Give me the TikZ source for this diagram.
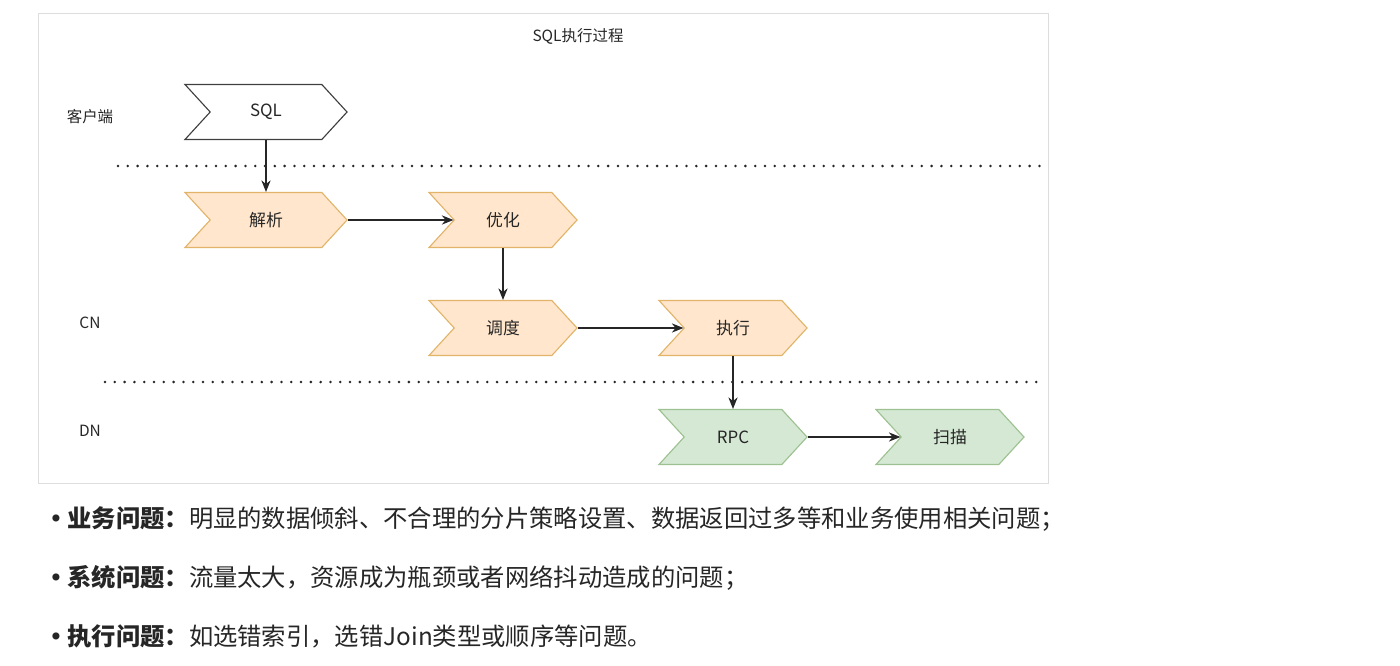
\documentclass[tikz,border=0pt]{standalone}
\usepackage{fontspec}
\setmainfont{Noto Sans CJK SC}
\newfontfamily\bulletfont{DejaVu Sans}
\usetikzlibrary{arrows.meta,shapes.symbols}

\definecolor{orfill}{HTML}{FFE6CC}
\definecolor{ordraw}{HTML}{E2B46A}
\definecolor{grfill}{HTML}{D5E8D4}
\definecolor{grdraw}{HTML}{9DC190}
\definecolor{txtgray}{HTML}{262626}
\definecolor{framegray}{HTML}{DDDDDD}

\begin{document}
\begin{tikzpicture}[
    x=0.025cm, y=-0.025cm,
    >={Stealth[length=2.9mm,width=2.3mm]},
    chev/.style={
        signal,
        signal from=west,
        signal to=east,
        signal pointer angle=95,
        minimum height=1.375cm,
        minimum width=3.7cm,
        inner sep=0pt,
        line width=0.8pt,
        font=\fontsize{12}{14}\selectfont,
        text=txtgray
    },
    chevwide/.style={chev, minimum width=4.05cm},
    client/.style={fill=white, draw=black!75},
    cnstep/.style={fill=orfill, draw=ordraw},
    dnstep/.style={fill=grfill, draw=grdraw},
    lane/.style={font=\fontsize{11}{13}\selectfont, text=txtgray},
    sep/.style={line width=2pt, line cap=round, dash pattern=on 0pt off 0.245cm, black!85},
    flow/.style={->, line width=0.8pt, black!85},
    point/.style={anchor=west, font=\fontsize{17.3}{20}\selectfont, text=black!85}
]
\useasboundingbox (0,0) rectangle (1400,665);

% ---- frame and title ----
\draw[framegray, line width=0.6pt] (38,13) rectangle (1048,483);
\node[lane] (title) at (578,36) {SQL执行过程};

% ---- lanes ----
\node[lane] (client) at (90,117) {客户端};
\node[lane] (cn)     at (90,323) {CN};
\node[lane] (dn)     at (90,431) {DN};

\draw[sep] (118,166) -- (1042,166);
\draw[sep] (105,382) -- (1040,382);

% ---- steps ----
\node[chevwide, client] (sql)   at (266,112) {SQL};
\node[chevwide, cnstep] (parse) at (266,220) {解析};
\node[chev, cnstep]     (opt)   at (503,220) {优化};
\node[chev, cnstep]     (sched) at (503,328) {调度};
\node[chev, cnstep]     (exec)  at (733,328) {执行};
\node[chev, dnstep]     (rpc)   at (733,437) {RPC};
\node[chev, dnstep]     (scan)  at (950,437) {扫描};

% ---- flows ----
\draw[flow] (sql.south)   -- (parse.north);
\draw[flow] (parse.east)  -- (opt.west);
\draw[flow] (opt.south)   -- (sched.north);
\draw[flow] (sched.east)  -- (exec.west);
\draw[flow] (exec.south)  -- (rpc.north);
\draw[flow] (rpc.east)    -- (scan.west);

% ---- problem list ----
\node[point] (biz)  at (44,519) {{\bulletfont•}\,\textbf{业务问题：}明显的数据倾斜、不合理的分片策略设置、数据返回过多等和业务使用相关问题；};
\node[point] (sys)  at (44,578) {{\bulletfont•}\,\textbf{系统问题：}流量太大，资源成为瓶颈或者网络抖动造成的问题；};
\node[point] (run)  at (44,636) {{\bulletfont•}\,\textbf{执行问题：}如选错索引，选错Join类型或顺序等问题。};

\end{tikzpicture}
\end{document}
